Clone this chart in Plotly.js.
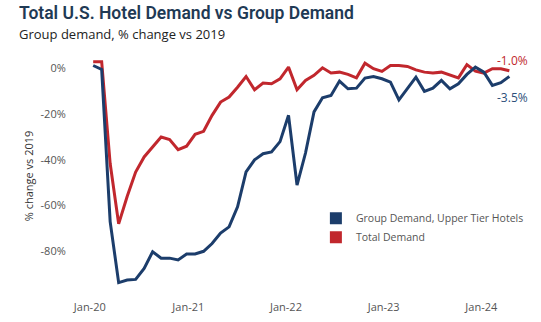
<!DOCTYPE html>
<html>
<head>
<meta charset="utf-8">
<script src="https://cdn.plot.ly/plotly-3.0.1.min.js"></script>
<style>
  html, body { margin: 0; padding: 0; background: #fff; }
  #chart { width: 541px; height: 322px; }
</style>
</head>
<body>
<div id="chart"></div>
<script>
// Months Jan-2020 .. Feb-2024
const months = [
  "2020-01","2020-02","2020-03","2020-04","2020-05","2020-06","2020-07","2020-08","2020-09","2020-10","2020-11","2020-12",
  "2021-01","2021-02","2021-03","2021-04","2021-05","2021-06","2021-07","2021-08","2021-09","2021-10","2021-11","2021-12",
  "2022-01","2022-02","2022-03","2022-04","2022-05","2022-06","2022-07","2022-08","2022-09","2022-10","2022-11","2022-12",
  "2023-01","2023-02","2023-03","2023-04","2023-05","2023-06","2023-07","2023-08","2023-09","2023-10","2023-11","2023-12",
  "2024-01","2024-02"
];

// Group Demand, Upper Tier Hotels (% change vs 2019)
const groupDemand = [
  1.3, -0.4, -67, -93.7, -92.6, -92.3, -87.5, -80.2, -83, -83, -83.8, -81.2,
  -81.2, -80, -76.6, -72, -69.3, -60.5, -45.3, -40, -37.3, -36.5, -32, -20.5,
  -51, -37, -19, -12.8, -11.8, -5.5, -8.9, -8.6, -4.2, -3.5, -4.5, -6,
  -13.7, -8.9, -3.8, -10, -8.6, -5.2, -8.9, -6.7, -2.6, 0.6, -1.6, -7.4,
  -6.2, -3.5
];

// Total Demand (% change vs 2019)
const totalDemand = [
  3, 3, -41.6, -68, -56, -45.3, -38.7, -34.4, -30, -31.1, -35.5, -34,
  -28.8, -27.5, -20.5, -14.7, -12.5, -8.2, -3.5, -9.3, -6.4, -6.7, -4.5, 0.6,
  -9.3, -5.2, -3, 0.3, -2, -1.6, -2.6, -4.1, 2.3, -0.1, -1.3, 1.3,
  1.3, 0.9, -0.6, -1.6, -2, -1.6, -2.8, -4.1, 1.7, -1.2, -2, -0.1,
  -0.1, -1.0
];

// Axis tick labels (positions follow the reference's label placement, in month units)
const xTickText = ["Jan-20", "Jan-21", "Jan-22", "Jan-23", "Jan-24"];
const xTickPos = [-0.4, 11.2, 22.7, 34.2, 45.7];
const yTickVals = [0, -20, -40, -60, -80];
const yTickText = ["0%", "-20%", "-40%", "-60%", "-80%"];

const seriesNames = ["Group Demand, Upper Tier Hotels", "Total Demand"];
const BLUE = "#1c3d6b";
const RED = "#c1272d";

const idx = months.map((m, i) => i);

const traces = [
  { x: idx, y: totalDemand, type: "scatter", mode: "lines", name: seriesNames[1],
    line: { color: RED, width: 3 }, showlegend: false, hoverinfo: "skip" },
  { x: idx, y: groupDemand, type: "scatter", mode: "lines", name: seriesNames[0],
    line: { color: BLUE, width: 3 }, showlegend: false, hoverinfo: "skip" },
  // legend entries (square swatches)
  { x: [null], y: [null], type: "scatter", mode: "markers", name: seriesNames[0],
    marker: { symbol: "square", size: 12, color: BLUE }, legendrank: 1 },
  { x: [null], y: [null], type: "scatter", mode: "markers", name: seriesNames[1],
    marker: { symbol: "square", size: 12, color: RED }, legendrank: 2 }
];

const last = months.length - 1;
const fmt = v => (v > 0 ? "+" : "") + v.toFixed(1) + "%";

const layout = {
  width: 541, height: 322,
  margin: { l: 75, r: 21, t: 55, b: 25, pad: 0 },
  paper_bgcolor: "#ffffff", plot_bgcolor: "#ffffff",
  font: { family: "Open Sans, sans-serif", size: 11, color: "#555" },
  showlegend: true,
  legend: {
    x: 0.545, y: 0.385, xanchor: "left", yanchor: "top",
    font: { size: 10.5, color: "#555" },
    tracegroupgap: 0, itemwidth: 30, bgcolor: "rgba(0,0,0,0)"
  },
  xaxis: {
    range: [-2.14, 49.9],
    showgrid: false, zeroline: false, showline: false,
    tickvals: xTickPos, ticktext: xTickText,
    ticks: "outside", ticklen: 0, tickcolor: "rgba(0,0,0,0)",
    tickfont: { size: 11, color: "#555" }, fixedrange: true
  },
  yaxis: {
    range: [-100, 5.9],
    showgrid: false, zeroline: false, showline: false,
    tickvals: yTickVals, ticktext: yTickText,
    ticks: "outside", ticklen: 6, tickcolor: "rgba(0,0,0,0)",
    tickfont: { size: 11, color: "#555" },
    title: { text: "% change vs 2019", font: { size: 11, color: "#333" }, standoff: 4 },
    fixedrange: true
  },
  annotations: [
    { xref: "paper", yref: "paper", x: -0.131, y: 1.1715, xanchor: "left", yanchor: "middle",
      text: "Total U.S. Hotel Demand vs Group Demand", showarrow: false,
      font: { family: "Roboto, sans-serif", size: 17.5, color: "#1f3a55", weight: 600 } },
    { xref: "paper", yref: "paper", x: -0.131, y: 1.0888, xanchor: "left", yanchor: "middle",
      text: "Group demand, % change vs 2019", showarrow: false,
      font: { size: 13, color: "#222" } },
    { x: last, y: totalDemand[last], text: fmt(totalDemand[last]), showarrow: false,
      xanchor: "center", yanchor: "middle", xshift: 3, yshift: 10,
      font: { size: 12, color: RED } },
    { x: last, y: groupDemand[last], text: fmt(groupDemand[last]), showarrow: false,
      xanchor: "center", yanchor: "middle", xshift: 3, yshift: -21,
      font: { size: 12, color: "#2d4f7a" } }
  ]
};

Plotly.newPlot("chart", traces, layout, { displayModeBar: false, staticPlot: true });
</script>
</body>
</html>
